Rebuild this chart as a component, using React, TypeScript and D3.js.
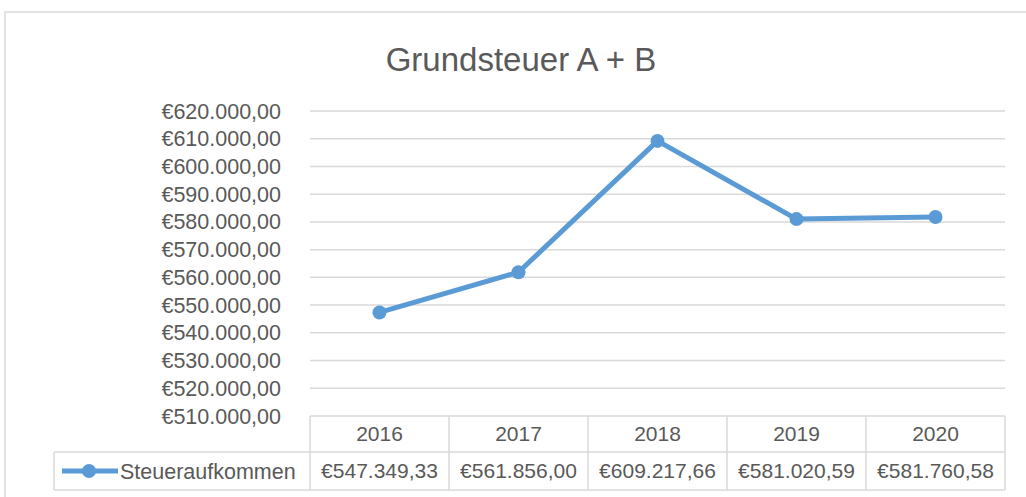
import { line, scaleBand, scaleLinear } from "d3";

const years = ["2016", "2017", "2018", "2019", "2020"];
const revenue = [547349.33, 561856.0, 609217.66, 581020.59, 581760.58];
const yTicks = [510000, 520000, 530000, 540000, 550000, 560000, 570000, 580000, 590000, 600000, 610000, 620000];
const seriesName = "Steueraufkommen";
const title = "Grundsteuer A + B";

const width = 1026;
const height = 497;
const plotLeft = 310;
const plotRight = 1005;
const plotTop = 111;
const plotBottom = 416;
const rowMid = 452;
const tableBottom = 490;
const legendLeft = 54;
const textColor = "#595959";
const gridColor = "#d9d9d9";
const lineColor = "#5b9bd5";
const font = "'Liberation Sans', Arial, sans-serif";

const formatEuro = (v: number) => {
  const [intPart, dec] = v.toFixed(2).split(".");
  return "€" + intPart.replace(/\B(?=(\d{3})+(?!\d))/g, ".") + "," + dec;
};

export default function App() {
  const x = scaleBand<string>().domain(years).range([plotLeft, plotRight]);
  const y = scaleLinear().domain([510000, 620000]).range([plotBottom, plotTop]);
  const pts = years.map((yr, i) => ({ x: (x(yr) ?? 0) + x.bandwidth() / 2, y: y(revenue[i]) }));
  const path = line<{ x: number; y: number }>()
    .x((d) => d.x)
    .y((d) => d.y)(pts) ?? "";
  const legendY = (rowMid + tableBottom) / 2;

  return (
    <svg
      width={width}
      height={height}
      style={{ position: "absolute", left: 0, top: 0, background: "#fff" }}
      fontFamily={font}
    >
      <rect x={5} y={12} width={1040} height={500} fill="#fff" stroke={gridColor} strokeWidth={1.5} />
      <text x={521} y={71} textAnchor="middle" fontSize={33} fill={textColor}>
        {title}
      </text>
      {yTicks.map((t) => (
        <g key={t}>
          {t > 510000 ? (
            <line x1={plotLeft} x2={plotRight} y1={y(t)} y2={y(t)} stroke={gridColor} strokeWidth={1.5} />
          ) : null}
          <text x={281} y={y(t)} dy="0.35em" textAnchor="end" fontSize={21.5} fill={textColor}>
            {formatEuro(t)}
          </text>
        </g>
      ))}
      {/* data table */}
      <g stroke={gridColor} strokeWidth={1.5} fill="none">
        <line x1={plotLeft} x2={plotRight} y1={plotBottom} y2={plotBottom} />
        <line x1={legendLeft} x2={plotRight} y1={rowMid} y2={rowMid} />
        <line x1={legendLeft} x2={plotRight} y1={tableBottom} y2={tableBottom} />
        <line x1={legendLeft} x2={legendLeft} y1={rowMid} y2={tableBottom} />
        {years.map((yr) => (
          <line key={yr} x1={x(yr) ?? 0} x2={x(yr) ?? 0} y1={plotBottom} y2={tableBottom} />
        ))}
        <line x1={plotRight} x2={plotRight} y1={plotBottom} y2={tableBottom} />
      </g>
      {years.map((yr, i) => (
        <g key={yr}>
          <text
            x={(x(yr) ?? 0) + x.bandwidth() / 2}
            y={(plotBottom + rowMid) / 2}
            dy="0.35em"
            textAnchor="middle"
            fontSize={21}
            fill={textColor}
          >
            {yr}
          </text>
          <text
            x={(x(yr) ?? 0) + x.bandwidth() / 2}
            y={legendY}
            dy="0.35em"
            textAnchor="middle"
            fontSize={21}
            fill={textColor}
          >
            {formatEuro(revenue[i])}
          </text>
        </g>
      ))}
      <line x1={62} x2={118} y1={legendY} y2={legendY} stroke={lineColor} strokeWidth={5} />
      <circle cx={89} cy={legendY} r={7} fill={lineColor} />
      <text x={120} y={legendY} dy="0.35em" fontSize={21.5} fill={textColor}>
        {seriesName}
      </text>
      <path d={path} fill="none" stroke={lineColor} strokeWidth={5} strokeLinejoin="round" />
      {pts.map((p, i) => (
        <circle key={i} cx={p.x} cy={p.y} r={7} fill={lineColor} />
      ))}
    </svg>
  );
}
